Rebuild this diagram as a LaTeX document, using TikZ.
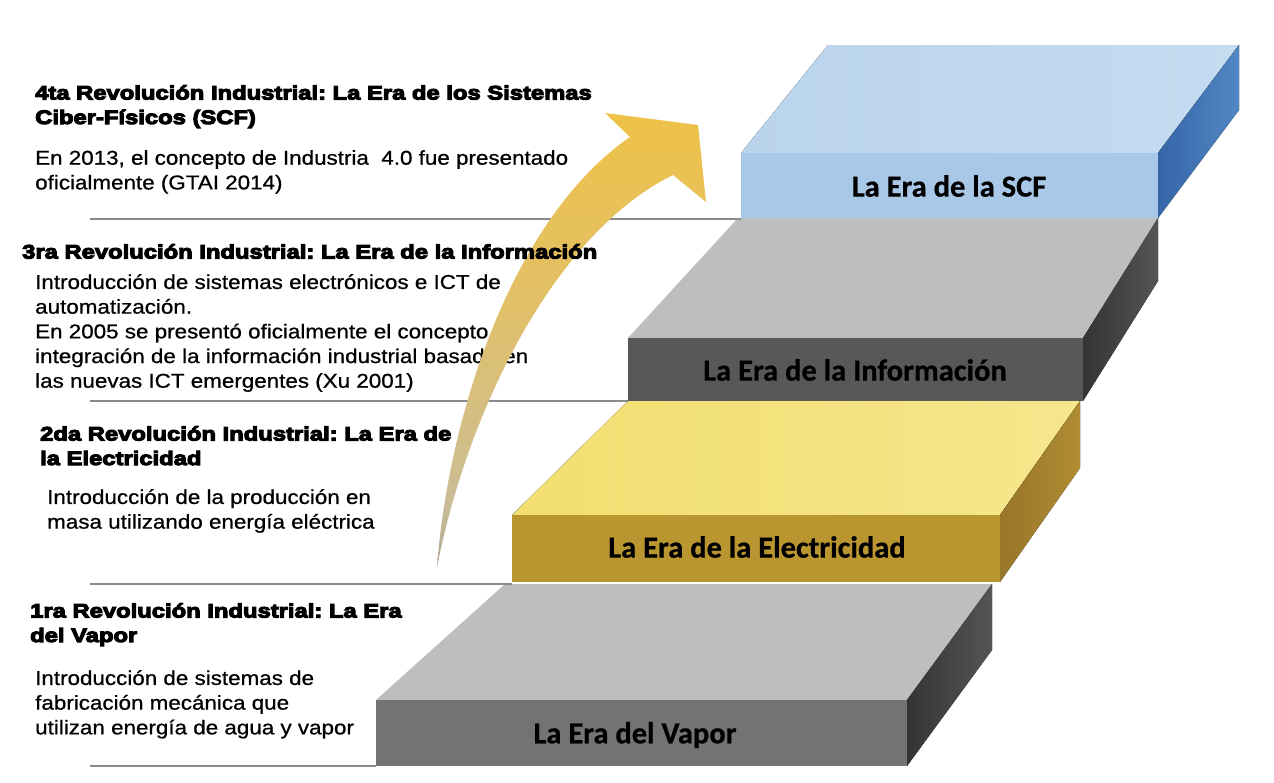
\documentclass[tikz,border=0pt]{standalone}
\usepackage{fontspec}
\setmainfont{Liberation Sans}
\newfontfamily\headfont{Liberation Sans}[FakeStretch=1.22,BoldFeatures={FakeBold=5.5}]
\newfontfamily\bodyfont{Liberation Sans}[FakeStretch=1.12,FakeBold=0.7]
\newfontfamily\labfont{Carlito}[BoldFeatures={FakeBold=0.6}]
\definecolor{sepgray}{HTML}{8A8A8A}
\definecolor{blueTop}{HTML}{BAD4EC}
\definecolor{blueTopB}{HTML}{C4DBF0}
\definecolor{blueFront}{HTML}{A9C8E8}
\definecolor{blueSideA}{HTML}{3566A8}
\definecolor{blueSideB}{HTML}{5287C5}
\definecolor{grayTop}{HTML}{BEBEBE}
\definecolor{infoFront}{HTML}{58585A}
\definecolor{darkSideA}{HTML}{343434}
\definecolor{darkSideB}{HTML}{555555}
\definecolor{yelTop}{HTML}{F2DE70}
\definecolor{yelTopB}{HTML}{F6E68C}
\definecolor{yelFront}{HTML}{B9962F}
\definecolor{yelSideA}{HTML}{97762A}
\definecolor{yelSideB}{HTML}{B08C32}
\definecolor{steamFront}{HTML}{747373}
\definecolor{arA}{HTML}{4A4A4A}
\definecolor{arB}{HTML}{707070}
\definecolor{arC}{HTML}{9B9690}
\definecolor{arD}{HTML}{CBBD96}
\definecolor{arE}{HTML}{E2C066}
\definecolor{arF}{HTML}{EEC248}
\definecolor{arG}{HTML}{F2C440}
\pgfdeclareverticalshading{arrowshade}{100bp}{color(0bp)=(arA); color(10bp)=(arB); color(20bp)=(arC); color(32bp)=(arD); color(55bp)=(arE); color(75bp)=(arF); color(100bp)=(arG)}
\frenchspacing
\begin{document}
\begin{tikzpicture}[x=1pt,y=-1pt,
  sep/.style={draw=sepgray,line width=2.4pt},
  head/.style={anchor=north west,inner sep=0pt,align=left,font=\headfont\bfseries\fontsize{19.5}{24.5}\selectfont},
  body/.style={anchor=north west,inner sep=0pt,align=left,font=\bodyfont\fontsize{20}{24.7}\selectfont},
  slablabel/.style={font=\labfont\bfseries\fontsize{30.5}{33}\selectfont,inner sep=0pt,text=black}]
\fill[white] (0,0) rectangle (1274,782);
\useasboundingbox (0,0) rectangle (1274,782);

% ---- slab 4 (SCF)
\coordinate (A4) at (741,153); \coordinate (B4) at (1158,153);
\coordinate (C4) at (1239,45);  \coordinate (D4) at (828,45);
\coordinate (E4) at (741,218); \coordinate (F4) at (1158,218);
\coordinate (G4) at (1239,110);
\fill[left color=blueTop,right color=blueTopB] (A4) -- (B4) -- (C4) -- (D4) -- cycle;
\fill[blueFront] (A4) rectangle (F4);
\fill[left color=blueSideA,right color=blueSideB] (B4) -- (C4) -- (G4) -- (F4) -- cycle;

% ---- slab 3 (Informacion)
\coordinate (A3) at (628,338); \coordinate (B3) at (1083,338);
\coordinate (C3) at (1158,218); \coordinate (D3) at (738,218);
\coordinate (E3) at (628,401); \coordinate (F3) at (1083,401);
\coordinate (G3) at (1158,281);
\fill[grayTop] (A3) -- (B3) -- (C3) -- (D3) -- cycle;
\fill[infoFront] (A3) rectangle (F3);
\fill[left color=darkSideA,right color=darkSideB] (B3) -- (C3) -- (G3) -- (F3) -- cycle;

% ---- slab 2 (Electricidad)
\coordinate (A2) at (512,515); \coordinate (B2) at (1000,515);
\coordinate (C2) at (1080,401); \coordinate (D2) at (628,401);
\coordinate (E2) at (512,582); \coordinate (F2) at (1000,582);
\coordinate (G2) at (1080,468);
\fill[left color=yelTop,right color=yelTopB] (A2) -- (B2) -- (C2) -- (D2) -- cycle;
\fill[yelFront] (A2) rectangle (F2);
\fill[left color=yelSideA,right color=yelSideB] (B2) -- (C2) -- (G2) -- (F2) -- cycle;

% ---- slab 1 (Vapor)
\coordinate (A1) at (376,700); \coordinate (B1) at (907,700);
\coordinate (C1) at (992,584); \coordinate (D1) at (505,584);
\coordinate (E1) at (376,766); \coordinate (F1) at (907,766);
\coordinate (G1) at (992,650);
\fill[grayTop] (A1) -- (B1) -- (C1) -- (D1) -- cycle;
\fill[steamFront] (A1) rectangle (F1);
\fill[left color=darkSideA,right color=darkSideB] (B1) -- (C1) -- (G1) -- (F1) -- cycle;

% ---- separator lines
\coordinate (L4) at (90,219);
\coordinate (L3) at (90,401);
\coordinate (L2) at (90,584);
\coordinate (L1) at (90,766);
\draw[sep] (L4) -- (L4 -| E4);
\draw[sep] (L3) -- (L3 -| E3);
\draw[sep] (L2) -- (L2 -| E2);
\draw[sep] (L1) -- (L1 -| E1);

% ---- slab labels
\node[slablabel] (lab4) at (949,186) {La Era de la SCF};
\node[slablabel] (lab3) at (855,370) {La Era de la Información};
\node[slablabel] (lab2) at (757,547) {La Era de la Electricidad};
\node[slablabel] (lab1) at (635,735) {La Era del Vapor};

% ---- body texts (under the arrow)
\node[body] (b4) at (35,150) {En 2013, el concepto de Industria~ 4.0 fue presentado\\oficialmente (GTAI 2014)};
\node[body] (b3) at (35,274) {Introducción de sistemas electrónicos e ICT de\\automatización.\\En 2005 se presentó oficialmente el concepto de\\integración de la información industrial basada en\\las nuevas ICT emergentes (Xu 2001)};
\node[body] (b2) at (47,489) {Introducción de la producción en\\masa utilizando energía eléctrica};
\node[body] (b1) at (35,670) {Introducción de sistemas de\\fabricación mecánica que\\utilizan energía de agua y vapor};

% ---- curved arrow
\path[shading=arrowshade] (437,567) .. controls (448,420) and (510,220) .. (630,137)
  -- (605,113) -- (698,125) -- (706,202) -- (673,175)
  .. controls (560,230) and (470,400) .. (437,567) -- cycle;

% ---- headings (over the arrow)
\node[head] (h4) at (35,85) {4ta Revolución Industrial: La Era de los Sistemas\\Ciber-Físicos (SCF)};
\node[head] (h3) at (22,244) {3ra Revolución Industrial: La Era de la Información};
\node[head] (h2) at (40,426) {2da Revolución Industrial: La Era de\\la Electricidad};
\node[head] (h1) at (30,603) {1ra Revolución Industrial: La Era\\del Vapor};
\end{tikzpicture}
\end{document}
